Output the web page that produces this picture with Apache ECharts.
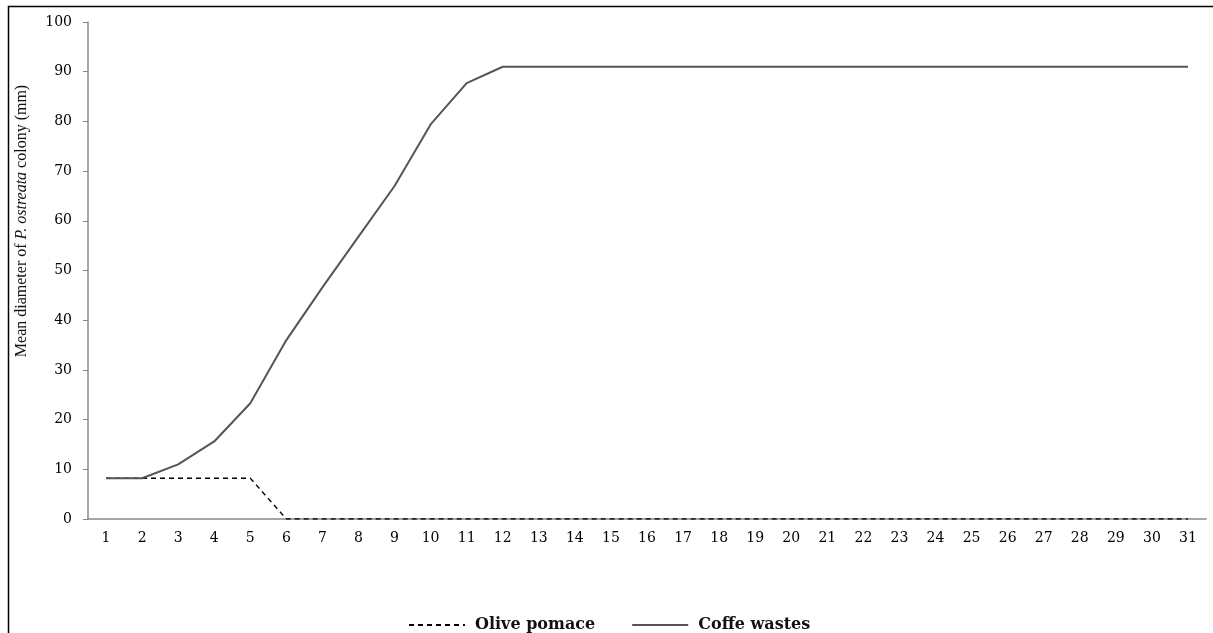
<!DOCTYPE html>
<html>
<head>
<meta charset="utf-8">
<script src="https://cdn.jsdelivr.net/npm/echarts@6/dist/echarts.min.js"></script>
<style>
	html, body { margin: 0; padding: 0; background: #fff; }
	#chart { width: 1213px; height: 633px; }
</style>
</head>
<body>
<div id="chart"></div>
<script>
// Days (x axis categories)
const days = [];
for (let d = 1; d <= 31; d++) days.push(String(d));

// Mean colony diameter, mm
const olivePomace = [8.2, 8.2, 8.2, 8.2, 8.2, 0, 0, 0, 0, 0, 0, 0, 0, 0, 0, 0, 0, 0, 0, 0, 0, 0, 0, 0, 0, 0, 0, 0, 0, 0, 0];
const coffeWastes = [8.2, 8.2, 11, 15.6, 23.3, 36, 46.6, 56.8, 67, 79.4, 87.7, 91, 91, 91, 91, 91, 91, 91, 91, 91, 91, 91, 91, 91, 91, 91, 91, 91, 91, 91, 91];

const serif = "'Liberation Serif', 'DejaVu Serif', serif";
const wideSerif = "'DejaVu Serif', serif";

const chart = echarts.init(document.getElementById("chart"));
chart.setOption({
	animation: false,
	textStyle: { fontFamily: serif },
	grid: { left: 88, top: 22, right: 7, bottom: 114 },
	graphic: [
		{
			type: "rect",
			shape: { x: 8.5, y: 6.5, width: 1220, height: 640 },
			style: { fill: "none", stroke: "#000", lineWidth: 1.5 },
			silent: true,
		},
		{
			type: "text",
			x: 22,
			y: 221,
			rotation: Math.PI / 2,
			style: {
				text: "{n|Mean diameter of }{i|P. ostreata}{n| colony (mm)}",
				align: "center",
				verticalAlign: "middle",
				rich: {
					n: { fontFamily: serif, fontSize: 16, fill: "#111" },
					i: { fontFamily: serif, fontSize: 16, fontStyle: "italic", fill: "#111" },
				},
			},
		},
	],
	legend: {
		top: 612,
		left: 403,
		itemWidth: 56,
		itemHeight: 12,
		itemGap: 36,
		itemStyle: { opacity: 0 },
		textStyle: { fontFamily: wideSerif, fontSize: 16, fontWeight: "bold", color: "#111", padding: [0, 0, 0, 5] },
		data: ["Olive pomace", "Coffe wastes"],
	},
	xAxis: {
		type: "category",
		data: days,
		boundaryGap: true,
		axisLine: { lineStyle: { color: "#888", width: 1.5 } },
		axisTick: { length: 5, lineStyle: { color: "#888" } },
		axisLabel: { color: "#000", fontSize: 14, fontFamily: wideSerif, margin: 12, interval: 0 },
	},
	yAxis: {
		type: "value",
		min: 0,
		max: 100,
		interval: 10,
		splitLine: { show: false },
		axisLine: { show: true, lineStyle: { color: "#888", width: 1.5 } },
		axisTick: { show: true, length: 5, lineStyle: { color: "#888" } },
		axisLabel: { color: "#000", fontSize: 14, fontFamily: wideSerif, margin: 16 },
	},
	series: [
		{
			name: "Olive pomace",
			type: "line",
			data: olivePomace,
			symbol: "none",
			lineStyle: { color: "#000", width: 1.3, type: [5, 4] },
			itemStyle: { color: "#000" },
			z: 2,
		},
		{
			name: "Coffe wastes",
			type: "line",
			data: coffeWastes,
			symbol: "none",
			lineStyle: { color: "#555", width: 2 },
			itemStyle: { color: "#555" },
			z: 3,
		},
	],
});
</script>
</body>
</html>
